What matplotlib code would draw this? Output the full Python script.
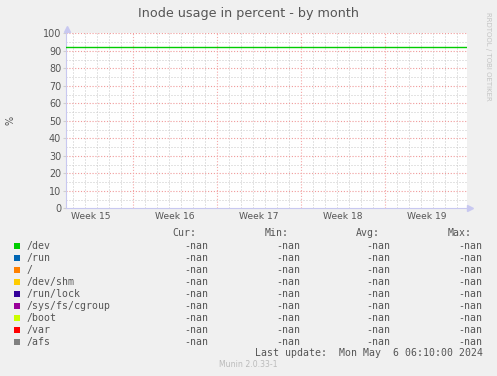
import matplotlib
matplotlib.use("Agg")
import matplotlib.pyplot as plt
from matplotlib.patches import Rectangle
import numpy as np

W, H = 497, 376

# ── data ──────────────────────────────────────────
title = "Inode usage in percent - by month"
week_labels = ["Week 15", "Week 16", "Week 17", "Week 18", "Week 19"]
week_centers = [-3.5, 3.5, 10.5, 17.5, 24.5]     # days
week_starts = [0, 7, 14, 21]                     # days
x_range = [-5.56, 27.86]                         # days shown
warn_level = 92                                  # percent

names = ["/dev", "/run", "/", "/dev/shm", "/run/lock",
         "/sys/fs/cgroup", "/boot", "/var", "/afs"]
colors = ["#00CC00", "#0066B3", "#FF8000", "#FFCC00", "#330099",
          "#990099", "#CCFF00", "#FF0000", "#808080"]
cur = ["-nan"] * 9
vmin = ["-nan"] * 9
vavg = ["-nan"] * 9
vmax = ["-nan"] * 9
last_update = "Last update:  Mon May  6 06:10:00 2024"

# ── figure ────────────────────────────────────────
def fx(px): return px / W
def fy(py): return 1 - py / H

fig = plt.figure(figsize=(W / 100, H / 100), dpi=100)
fig.patch.set_facecolor("#F0F0F0")

ax = fig.add_axes([fx(66), fy(208.3), 401 / W, 175 / H])
ax.set_facecolor("white")
ax.set_xlim(*x_range)
ax.set_ylim(0, 100)

dot = (0, (1, 2))
red_dot = (0, (1, 1.6))
for d in np.arange(np.ceil(x_range[0]), x_range[1]):
    if d not in week_starts:
        ax.axvline(d, color="#c8c8c8", lw=0.72, ls=dot, zorder=1)
for v in range(5, 100, 10):
    ax.axhline(v, color="#c8c8c8", lw=0.72, ls=dot, zorder=1)
for v in range(10, 101, 10):
    ax.axhline(v, color="#f09a9a", lw=0.8, ls=red_dot, zorder=2)
for d in week_starts:
    ax.axvline(d, color="#f5a8a8", lw=0.8, ls=red_dot, zorder=2)

ax.plot(x_range, [warn_level, warn_level], color="#00CC00", lw=1.0, zorder=3)

for s in ["top", "right"]:
    ax.spines[s].set_visible(False)
for s in ["left", "bottom"]:
    ax.spines[s].set_color("#c8c8f0")
    ax.spines[s].set_linewidth(0.8)

ax.set_yticks(range(0, 101, 10))
ax.set_xticks(week_centers)
ax.set_xticklabels(week_labels)
ax.tick_params(axis="y", length=2, color="#cfcfcf", labelsize=6.9,
               labelcolor="#555555", pad=1.5)
ax.tick_params(axis="x", length=0, labelsize=6.6, labelcolor="#555555", pad=3)

fig.text(fx(10), fy(120), "%", rotation=90, ha="center", va="center",
         fontsize=7, color="#555555")

# axis arrows
fig.add_artist(plt.Line2D([fx(67)], [fy(28.5)], marker="^", ms=4,
                          color="#c8c8f0", transform=fig.transFigure))
fig.add_artist(plt.Line2D([fx(470)], [fy(208.3)], marker=">", ms=4,
                          color="#c8c8f0", transform=fig.transFigure))

fig.text(fx(248), fy(13.3), title, ha="center", va="center",
         fontsize=9.15, color="#555555")
fig.text(fx(488), fy(56), "RRDTOOL / TOBI OETIKER", rotation=270,
         ha="center", va="center", fontsize=5, color="#c4c4c4")

# ── legend ────────────────────────────────────────
mono = "DejaVu Sans Mono"
fs = 7.1
tc = "#555555"
hy = 233.3
for label, x in zip(["Cur:", "Min:", "Avg:", "Max:"], [172.3, 265, 356, 447.7]):
    fig.text(fx(x), fy(hy), label, ha="left", va="center",
             family=mono, fontsize=fs, color=tc)

col_right = [208.3, 300.7, 390.7, 482.7]
for i, name in enumerate(names):
    y = 245.7 + 12 * i
    fig.add_artist(Rectangle((fx(14), fy(y + 3)), 6 / W, 6 / H,
                             transform=fig.transFigure, color=colors[i], lw=0))
    fig.text(fx(26.7), fy(y), name, ha="left", va="center",
             family=mono, fontsize=fs, color=tc)
    for vals, xr in zip([cur, vmin, vavg, vmax], col_right):
        fig.text(fx(xr), fy(y), vals[i], ha="right", va="center",
                 family=mono, fontsize=fs, color=tc)

fig.text(fx(482.7), fy(353.3), last_update, ha="right", va="center",
         family=mono, fontsize=fs, color=tc)
fig.text(fx(248.5), fy(364.5), "Munin 2.0.33-1", ha="center", va="center",
         fontsize=5.6, color="#bbbbbb")

fig.savefig("out.png", dpi=100, facecolor=fig.get_facecolor())
